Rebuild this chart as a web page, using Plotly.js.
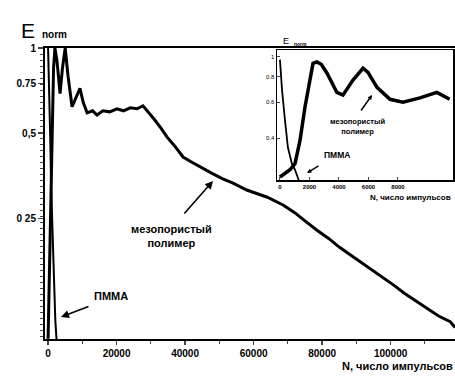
<!DOCTYPE html>
<html><head><meta charset="utf-8">
<script src="https://cdn.plot.ly/plotly-3.0.1.min.js"></script>
<style>html,body{margin:0;padding:0;background:#fff}#c{width:455px;height:376px}</style>
</head><body><div id="c"></div>
<script>
// Main plot: mesoporous polymer
const mesoN = [0,300,600,900,1200,1600,2000,2600,3500,4200,5000,5800,7000,8300,9300,10300,11400,13000,14300,16000,18000,20100,22000,24000,26000,27700,29000,31000,33000,34700,37000,39400,42000,44400,48000,51000,54000,58000,61000,64000,68600,72000,75000,78500,82000,85000,88200,91000,94000,97800,101000,104000,107700,111000,114000,117400,118800];
const mesoE = [0.094,0.15,0.25,0.4,0.6,0.85,1.0,0.9,0.69,0.85,1.0,0.8,0.62,0.68,0.72,0.64,0.59,0.6,0.58,0.6,0.595,0.61,0.6,0.615,0.61,0.625,0.6,0.56,0.52,0.485,0.45,0.412,0.395,0.38,0.36,0.345,0.333,0.315,0.305,0.297,0.279,0.262,0.245,0.227,0.212,0.198,0.186,0.176,0.166,0.155,0.145,0.136,0.127,0.12,0.113,0.108,0.103];
// Main plot: PMMA
const pmmaN = [0,300,600,900,1300,1700,2100,2400,2600];
const pmmaE = [1.0,0.75,0.5,0.32,0.22,0.15,0.11,0.096,0.09];
// Inset: mesoporous polymer
const inMesoN = [0,680,1020,1360,1700,2030,2240,2500,2800,3200,3860,4270,4950,5630,5970,6580,7460,8340,9490,10640,11500];
const inMesoE = [0.258,0.28,0.30,0.39,0.57,0.77,0.93,0.945,0.92,0.83,0.67,0.65,0.77,0.88,0.84,0.71,0.62,0.6,0.63,0.67,0.62];
// Inset: PMMA
const inPmmaN = [0,140,340,540,810,1020,1220,1350];
const inPmmaE = [0.97,0.69,0.49,0.36,0.30,0.28,0.255,0.24];

const mainXTicks = [0,20000,40000,60000,80000,100000];
const mainXText = ["0","20000","40000","60000","80000","100000"];
const mainYTicks = [0.25,0.5,0.75,1];
const mainYText = ["0 25","0,5","0.75","1"];
const inXTicks = [0,2000,4000,6000,8000];
const inXText = ["0","2000","4000","6000","8000"];
const inYTicks = [0.4,0.6,0.8,1];
const inYText = ["0.4","0.6","0.8","1"];

// layout helpers (pixel -> paper)
const L=45, R=455, T=48, B=339;
function px(x){return (x-L)/(R-L);}
function py(y){return (B-y)/(B-T);}

const minorY=[]; for(let i=1;i<49;i++){minorY.push(Math.pow(10,-i*6/283));}

const F = "Liberation Sans, Arial, sans-serif";
const data = [
 {x:mesoN,y:mesoE,type:'scatter',mode:'lines',line:{color:'#000',width:3},xaxis:'x',yaxis:'y',hoverinfo:'skip'},
 {x:pmmaN,y:pmmaE,type:'scatter',mode:'lines',line:{color:'#000',width:2},xaxis:'x',yaxis:'y',hoverinfo:'skip'},
 {x:inMesoN,y:inMesoE,type:'scatter',mode:'lines',line:{color:'#000',width:3.5},xaxis:'x2',yaxis:'y2',hoverinfo:'skip'},
 {x:inPmmaN,y:inPmmaE,type:'scatter',mode:'lines',line:{color:'#000',width:1.8},xaxis:'x2',yaxis:'y2',hoverinfo:'skip'}
];

function txt(t,x,y,size,opts){return Object.assign({text:t,xref:'paper',yref:'paper',x:px(x),y:py(y),xanchor:'center',yanchor:'middle',showarrow:false,font:{family:F,size:size,color:'#000',weight:'bold'}},opts||{});}
function arr(hx,hy,tx,ty,w,s){return {text:'',xref:'paper',yref:'paper',x:px(hx),y:py(hy),ax:tx-hx,ay:ty-hy,showarrow:true,arrowhead:2,arrowsize:s||1,arrowwidth:w||1.5,arrowcolor:'#000'};}

const layout = {
 width:455,height:376,margin:{l:L,r:455-R,t:T,b:376-B},
 paper_bgcolor:'#fff',plot_bgcolor:'#fff',showlegend:false,
 font:{family:F,color:'#000'},
 xaxis:{domain:[0,1],range:[-900,118800],tickvals:mainXTicks,ticktext:mainXText,ticks:'outside',ticklen:4,tickwidth:1.5,
   minor:{dtick:10000,tick0:0,ticks:'outside',ticklen:3,tickwidth:1},
   showgrid:false,zeroline:false,showline:true,linewidth:2,linecolor:'#000',mirror:true,
   tickfont:{family:F,size:10,color:'#000',weight:'bold'}},
 yaxis:{domain:[0,1],type:'log',range:[-1.028,0],tickvals:mainYTicks,ticktext:mainYText,ticks:'outside',ticklen:5,tickwidth:1.5,
   minor:{tickvals:minorY,ticks:'outside',ticklen:3,tickwidth:1,showgrid:false},
   showgrid:false,zeroline:false,showline:true,linewidth:2,linecolor:'#000',mirror:true,
   tickfont:{family:F,size:10,color:'#000',weight:'bold'}},
 xaxis2:{domain:[px(277),px(453)],anchor:'y2',range:[-200,11730],tickvals:inXTicks,ticktext:inXText,ticks:'inside',ticklen:3,
   showgrid:false,zeroline:false,showline:true,linewidth:1.5,linecolor:'#000',mirror:true,
   tickfont:{family:F,size:6,color:'#000',weight:'bold'}},
 yaxis2:{domain:[py(180),py(50)],anchor:'x2',type:'log',range:[-0.603,0.034],tickvals:inYTicks,ticktext:inYText,ticks:'inside',ticklen:3,
   showgrid:false,zeroline:false,showline:true,linewidth:1.5,linecolor:'#000',mirror:true,
   tickfont:{family:F,size:6,color:'#000'}},
 annotations:[
  txt('E',28,31,21,{font:{family:F,size:21,color:'#000'}}),
  txt('norm',54,35,10),
  txt('N, число импульсов',455,366,11,{xanchor:'right'}),
  txt('мезопористый<br>полимер',171,236,11),
  arr(213,181,183,215,1.6,1),
  txt('ПММА',111,296,11),
  arr(61,317,90,306,1.6,1),
  txt('E',286,41,9,{font:{family:F,size:9,color:'#000'}}),
  txt('norm',300,44,5),
  txt('N, число импульсов',453,197,8,{xanchor:'right'}),
  txt('мезопористый<br>полимер',357,126,7.5),
  arr(372,95,360,112,1.5,0.6),
  txt('ПММА',337,155,8.5),
  arr(307,173,320,165,1.5,0.6)
 ]
};
Plotly.newPlot('c',data,layout,{displayModeBar:false,staticPlot:true});
</script></body></html>
